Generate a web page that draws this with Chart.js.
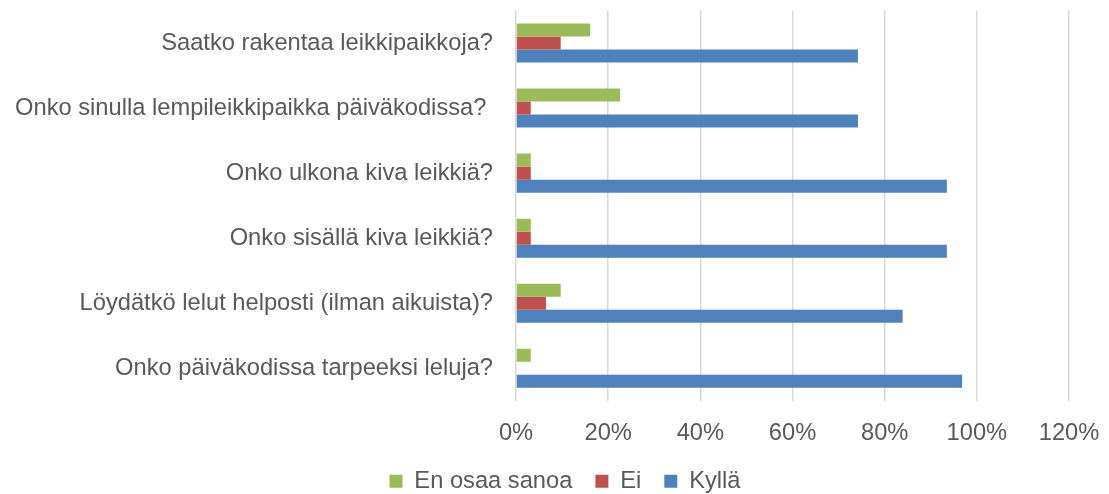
<!DOCTYPE html>
<html>
<head>
<meta charset="utf-8">
<script src="https://cdn.jsdelivr.net/npm/chart.js@4"></script>
<style>
html,body{margin:0;padding:0;background:#fff;}
#wrap{width:1109px;height:494px;position:relative;}
</style>
</head>
<body>
<div id="wrap"><canvas id="c" width="1109" height="494"></canvas></div>
<script>
const categories = [
  "Saatko rakentaa leikkipaikkoja?",
  "Onko sinulla lempileikkipaikka päiväkodissa? ",
  "Onko ulkona kiva leikkiä?",
  "Onko sisällä kiva leikkiä?",
  "Löydätkö lelut helposti (ilman aikuista)?",
  "Onko päiväkodissa tarpeeksi leluja?"
];
const seriesNames = ["En osaa sanoa", "Ei", "Kyllä"];
const enOsaaSanoa = [16.1, 22.6, 3.2, 3.2, 9.7, 3.2];
const ei = [9.7, 3.2, 3.2, 3.2, 6.5, 0];
const kylla = [74.2, 74.2, 93.5, 93.5, 83.9, 96.8];
const xTicks = [0, 20, 40, 60, 80, 100, 120];

const colors = ["#9BBB59", "#C0504D", "#4F81BD"];
const textColor = "#595959";
const fontFamily = "'Liberation Sans', Arial, sans-serif";

const legendShift = {
  id: 'legendShift',
  afterLayout(chart) {
    if (chart.legend) { chart.legend.left += 30.5; chart.legend.right += 30.5; }
  }
};

new Chart(document.getElementById('c'), {
  type: 'bar',
  data: {
    labels: categories,
    datasets: [
      { label: seriesNames[0], data: enOsaaSanoa, backgroundColor: colors[0] },
      { label: seriesNames[1], data: ei, backgroundColor: colors[1] },
      { label: seriesNames[2], data: kylla, backgroundColor: colors[2] }
    ]
  },
  plugins: [legendShift],
  options: {
    indexAxis: 'y',
    responsive: false,
    animation: false,
    devicePixelRatio: 1,
    layout: { padding: { top: 10.5, right: 40, bottom: -9, left: 0 } },
    datasets: { bar: { barPercentage: 1.0, categoryPercentage: 0.6 } },
    plugins: {
      legend: {
        position: 'bottom',
        labels: {
          color: textColor,
          font: { family: fontFamily, size: 23.7 },
          boxWidth: 13,
          boxHeight: 13,
          padding: 23
        }
      },
      tooltip: { enabled: false }
    },
    scales: {
      x: {
        min: 0, max: 120,
        afterBuildTicks: (s) => { s.ticks = xTicks.map(v => ({ value: v })); },
        afterFit: (s) => { s.height = 45.5; s.paddingLeft = 0; s.paddingRight = 0; },
        grid: { color: "#d9d9d9", lineWidth: 1.5, drawTicks: false },
        border: { display: false },
        ticks: {
          color: textColor,
          font: { family: fontFamily, size: 23.7 },
          padding: 18,
          callback: (v) => v + "%"
        }
      },
      y: {
        afterFit: (s) => { s.width = 516; s.paddingTop = 0; s.paddingBottom = 0; },
        grid: { display: false, drawTicks: false },
        border: { display: false },
        ticks: {
          color: textColor,
          font: { family: fontFamily, size: 23.7 },
          padding: 23
        }
      }
    }
  }
});
</script>
</body>
</html>
